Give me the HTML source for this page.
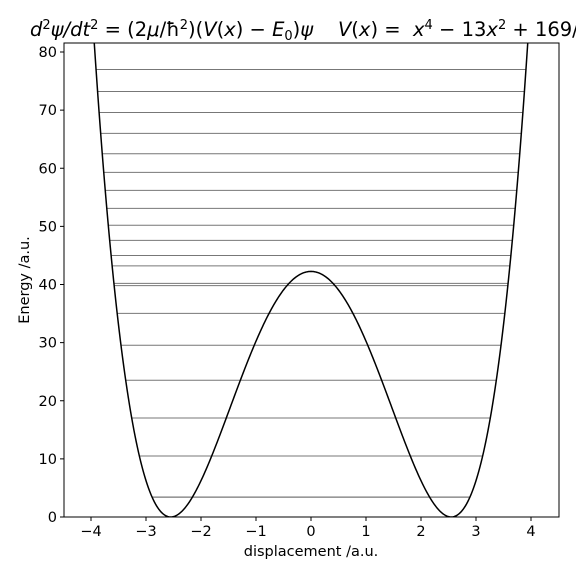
<!DOCTYPE html>
<html><head><meta charset="utf-8"><style>
body{margin:0;background:#fff;width:576px;height:576px;overflow:hidden}
text{font-family:"DejaVu Sans","Liberation Sans",sans-serif}
</style></head><body>
<svg id="c" width="576" height="576">
<text x="30" y="36" font-size="19.5" style="white-space:pre"><tspan font-style="italic">d</tspan><tspan font-size="13" dy="-7">2</tspan><tspan dy="7" font-style="italic">ψ/dt</tspan><tspan font-size="13" dy="-7">2</tspan><tspan dy="7"> = (2</tspan><tspan font-style="italic">μ</tspan>/ħ<tspan font-size="13" dy="-7">2</tspan><tspan dy="7">)(</tspan><tspan font-style="italic">V</tspan>(<tspan font-style="italic">x</tspan>) − <tspan font-style="italic">E</tspan><tspan font-size="13" dy="4">0</tspan><tspan dy="-4">)</tspan><tspan font-style="italic">ψ</tspan>    <tspan font-style="italic">V</tspan>(<tspan font-style="italic">x</tspan>) =  <tspan font-style="italic">x</tspan><tspan font-size="13" dy="-7">4</tspan><tspan dy="7"> − 13</tspan><tspan font-style="italic">x</tspan><tspan font-size="13" dy="-7">2</tspan><tspan dy="7"> + 169/4</tspan></text>
<g id="plot"></g>
</svg>
<script>
const levels=[3.39,3.45,10.49,17.03,23.52,29.54,35.04,39.8,40.2,43.2,45.0,47.6,50.2,53.1,56.2,59.3,62.5,66.0,69.6,73.2,77.0];
const xTicks=[-4,-3,-2,-1,0,1,2,3,4];
const yTicks=[0,10,20,30,40,50,60,70,80];
const L=64,R=559,T=43,B=517;
const X=v=>311+v*55, Y=v=>517-v*5.8125;
const V=x=>Math.pow(x*x-6.5,2);
const g=document.getElementById('plot');
const NS='http://www.w3.org/2000/svg';
function mk(t,a){const e=document.createElementNS(NS,t);for(const k in a)e.setAttribute(k,a[k]);g.appendChild(e);return e;}
const cp=document.createElementNS(NS,'clipPath');cp.id='clip';
const cr=document.createElementNS(NS,'rect');cr.setAttribute('x',L);cr.setAttribute('y',T);cr.setAttribute('width',R-L);cr.setAttribute('height',B-T);cp.appendChild(cr);g.appendChild(cp);
levels.forEach(E=>{const xo=Math.sqrt(6.5+Math.sqrt(E));
const l=mk('line',{x1:X(-xo),x2:X(xo),y1:Y(E),y2:Y(E),stroke:'#777','stroke-width':1});

});
let d='';for(let i=0;i<=400;i++){const x=-4.1+8.2*i/400;d+=(i?'L':'M')+X(x).toFixed(2)+','+Y(V(x)).toFixed(2);}
const p=mk('path',{d:d,fill:'none',stroke:'#000','stroke-width':1.5,'clip-path':'url(#clip)'});


const fr=mk('rect',{x:L,y:T,width:R-L,height:B-T,fill:'none',stroke:'#000','stroke-width':1});


xTicks.forEach(v=>{mk('line',{x1:X(v),x2:X(v),y1:B,y2:B+4,stroke:'#000'});
const t=mk('text',{x:X(v),y:B+19,'font-size':14.5,'text-anchor':'middle'});t.textContent=(v<0?'−'+(-v):v);

});
yTicks.forEach(v=>{mk('line',{x1:L-4,x2:L,y1:Y(v),y2:Y(v),stroke:'#000'});
const t=mk('text',{x:L-7,y:Y(v)+5,'font-size':14.5,'text-anchor':'end'});t.textContent=v;

});
const xt=mk('text',{x:311,y:556,'font-size':14.5,'text-anchor':'middle'});xt.textContent='displacement /a.u.';


const yt=mk('text',{x:0,y:0,'font-size':14.5,'text-anchor':'middle',transform:'translate(29,280) rotate(-90)'});yt.textContent='Energy /a.u.';


</script>
</body></html>
